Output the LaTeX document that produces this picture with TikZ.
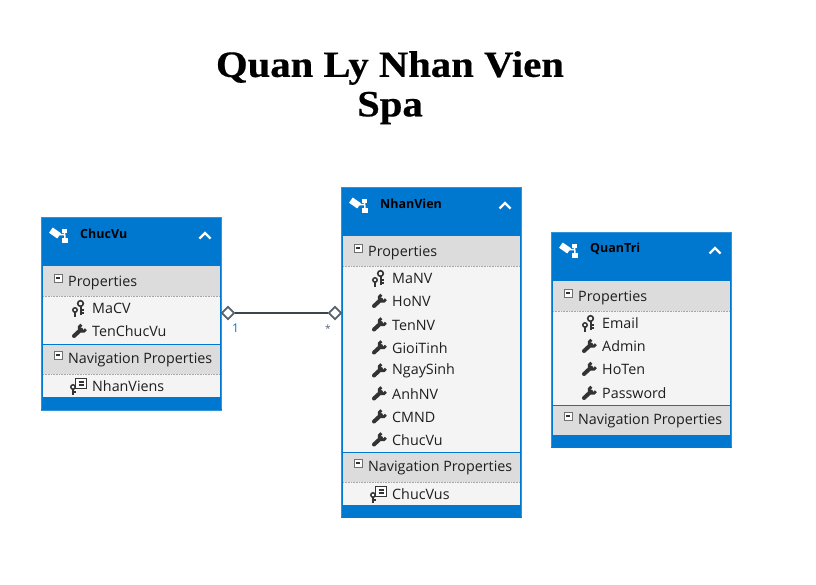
\documentclass[tikz,border=0pt]{standalone}
\usepackage{fontspec}
\setmainfont{Open Sans}
\newfontfamily\titlefont[FakeStretch=1.1,BoldFeatures={FakeBold=0.5}]{Liberation Serif}
\usetikzlibrary{shapes.geometric}
\definecolor{hdrblue}{HTML}{0078D0}
\definecolor{bandgray}{HTML}{DCDCDC}
\definecolor{rowgray}{HTML}{F4F4F4}
\definecolor{icondark}{HTML}{333333}
\definecolor{edgegray}{HTML}{566270}
\definecolor{txt}{HTML}{1E1E1E}
\tikzset{
  x=1pt,y=-1pt,
  entitybox/.style={draw=hdrblue!80!white,line width=1pt,fill=hdrblue,minimum width=180pt,anchor=north west,inner sep=0pt},
  titletext/.style={font=\titlefont\bfseries\fontsize{37}{42}\selectfont,text=black,anchor=center,inner sep=0pt},
  headtext/.style={font=\bfseries\fontsize{12.5}{14}\selectfont,text=black,anchor=west,inner sep=0pt},
  rowtext/.style={font=\fontsize{14.3}{16}\selectfont,text=txt,anchor=west,inner sep=0pt},
  multtext/.style={inner sep=0pt},
  endmark/.style={diamond,draw=edgegray,line width=1.7pt,fill=white,minimum width=13pt,minimum height=13pt,inner sep=0pt},
  link/.style={draw=edgegray!70!black,line width=1.6pt},
  pics/keyicon/.style={code={
    \draw[icondark,line width=1.6pt] (2,-4.5) circle[radius=2.8];
    \draw[icondark,line width=2pt] (2,-2) -- (2,6.5) (2,2) -- (5,2) (2,5) -- (5,5);
    \draw[icondark,line width=1.5pt] (-3.5,2) circle[radius=2.2];
    \draw[icondark,line width=2pt] (-3.5,3) -- (-3.5,8.5);
  }},
  pics/wrenchicon/.style={code={
    \draw[icondark,line width=4pt,line cap=round] (-4.5,5) -- (2.5,-1.5);
    \draw[icondark,line width=2.8pt] ([shift={(20:3.5)}]4,-3) arc[start angle=20,end angle=250,radius=3.5];
  }},
  pics/navicon/.style={code={
    \draw[icondark,line width=1.1pt,fill=white] (-3,-7) rectangle (8,3);
    \draw[icondark,line width=1.1pt] (0,-3.5) -- (5,-3.5) (0,-.5) -- (5,-.5);
    \draw[icondark,line width=1.5pt,fill=white] (-5.5,1.5) circle[radius=2.2];
    \draw[icondark,line width=2pt] (-5.5,3.5) -- (-5.5,9) (-5.5,6.5) -- (-3,6.5);
  }},
  pics/foldicon/.style={code={
    \draw[icondark!70,line width=.8pt,fill=white] (-4,-4) rectangle (4,4);
    \draw[icondark,line width=1.1pt] (-2.2,0) -- (2.2,0);
  }},
  pics/chevicon/.style={code={
    \draw[white,line width=2.4pt] (-5.5,3) -- (0,-2.5) -- (5.5,3);
  }},
  pics/entityicon/.style={code={
    \fill[white,shift={(-4.5,-1.5)},rotate=-35] (-5,-3.2) rectangle (5,3.2);
    \draw[white,line width=1.5pt] (-1,0) -- (5,0) (5,-4) -- (5.5,6);
    \fill[white] (2.5,-5.5) rectangle (7,-1.5);
    \fill[white] (2.5,3.5) rectangle (8,8);
  }},
}
\newcommand{\entitybody}[7]{%
  % #1 left x, #2 top y, #3 nav band top, #4 bottom blue top, #5 bottom, #6 node name, #7 title
  \node[entitybox,minimum height={#5-#2}] (#6) at (#1,#2) {};
  \fill[bandgray] (#1+2,#2+49) rectangle (#1+179,#2+79);
  \fill[rowgray] (#1+2,#2+79) rectangle (#1+179,#3);
  \fill[bandgray] (#1+2,#3) rectangle (#1+179,#3+30);
  \ifdim #4pt>\dimexpr #3pt+30pt\relax
    \fill[rowgray] (#1+2,#3+30) rectangle (#1+179,#4);
    \draw[gray!70,line width=.6pt,densely dotted] (#1+2,#3+30) -- (#1+179,#3+30);
  \fi
  \draw[gray!70,line width=.6pt,densely dotted] (#1+2,#2+79) -- (#1+179,#2+79);
  \draw[hdrblue,line width=1pt] (#1+2,#3) -- (#1+179,#3);
  \draw[edgegray,line width=.8pt] (#1,#5) -- (#1+181,#5);
  \pic at (#1+18.5,#2+17.5) {entityicon};
  \node[headtext] (#6title) at (#1+39,#2+16.5) {#7};
  \pic at (#1+164,#2+18.5) {chevicon};
  \pic at (#1+17,#2+61) {foldicon};
  \node[rowtext] (#6props) at (#1+27,#2+65.5) {Properties};
  \pic at (#1+17,#3+11) {foldicon};
  \node[rowtext] (#6nav) at (#1+27,#3+16) {Navigation Properties};
}
\newcommand{\rowitem}[5]{% left x, y, icon, name, text
  \pic at (#1+37.5,#2) {#3};
  \node[rowtext] (#4) at (#1+51,#2+.5) {#5};
}
\begin{document}
\begin{tikzpicture}
\useasboundingbox (0,0) rectangle (816,584);
\fill[white] (0,0) rectangle (816,584);
\node[titletext] (t1) at (390,68) {Quan Ly Nhan Vien};
\node[titletext] (t2) at (390,108) {Spa};

\entitybody{41}{217}{344}{397}{409.5}{chucvu}{ChucVu}
\rowitem{41}{308}{keyicon}{macv}{MaCV}
\rowitem{41}{331}{wrenchicon}{tencv}{TenChucVu}
\rowitem{41}{385.5}{navicon}{nvs}{NhanViens}

\entitybody{341}{187}{452}{505}{517}{nhanvien}{NhanVien}
\rowitem{341}{278}{keyicon}{manv}{MaNV}
\rowitem{341}{301}{wrenchicon}{honv}{HoNV}
\rowitem{341}{324.5}{wrenchicon}{tennv}{TenNV}
\rowitem{341}{347.5}{wrenchicon}{gioitinh}{GioiTinh}
\rowitem{341}{370.5}{wrenchicon}{ngaysinh}{NgaySinh}
\rowitem{341}{393.5}{wrenchicon}{anhnv}{AnhNV}
\rowitem{341}{416.5}{wrenchicon}{cmnd}{CMND}
\rowitem{341}{439.5}{wrenchicon}{chucvuf}{ChucVu}
\rowitem{341}{493.5}{navicon}{cvs}{ChucVus}

\entitybody{551}{232}{405}{435}{447}{quantri}{QuanTri}
\rowitem{551}{323}{keyicon}{email}{Email}
\rowitem{551}{346}{wrenchicon}{admin}{Admin}
\rowitem{551}{369}{wrenchicon}{hoten}{HoTen}
\rowitem{551}{393}{wrenchicon}{password}{Password}

\node[endmark] (ea) at (228,313) {};
\node[endmark] (eb) at (335,313) {};
\draw[link] (ea) -- (eb);
\node[multtext,font=\fontsize{12}{13}\selectfont,text=hdrblue] (m1) at (235.5,328.5) {1};
\node[multtext,font=\fontsize{10}{11}\selectfont,text=edgegray] (m2) at (328,328.5) {*};
\end{tikzpicture}
\end{document}
